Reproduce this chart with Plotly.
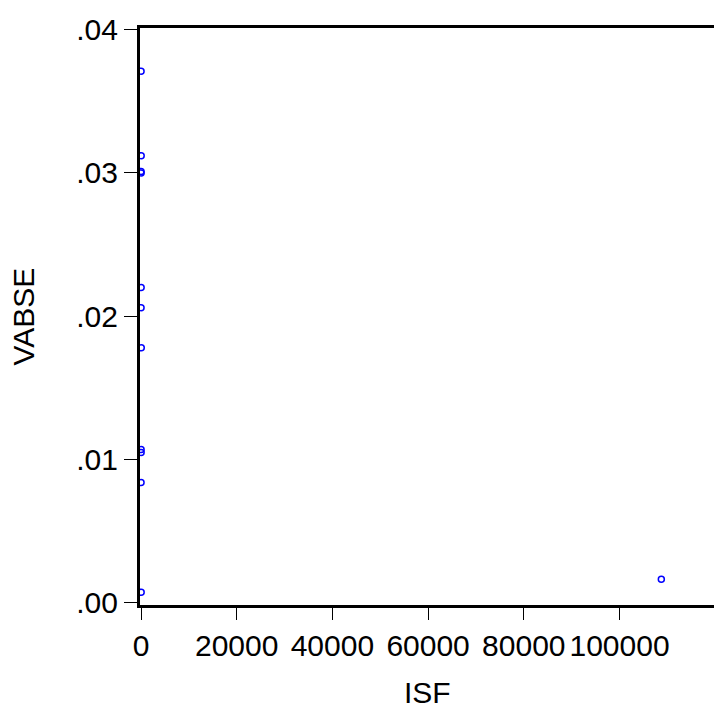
import plotly.graph_objects as go

isf = [15, 40, 8, 22, 30, 12, 55, 18, 26, 10, 35, 108740]
vabse = [0.0371, 0.0312, 0.0301, 0.0300, 0.0220, 0.0206, 0.0178, 0.0107, 0.0105, 0.0084, 0.00075, 0.00165]

x_ticks = [0, 20000, 40000, 60000, 80000, 100000]
x_labels = ["0", "20000", "40000", "60000", "80000", "100000"]
y_ticks = [0.0, 0.01, 0.02, 0.03, 0.04]
y_labels = [".00", ".01", ".02", ".03", ".04"]

font = dict(family="Liberation Sans, Arial, sans-serif", size=30, color="black")

fig = go.Figure(go.Scatter(
    x=isf, y=vabse, mode="markers",
    marker=dict(symbol="circle-open", size=6, color="#0000FF", line=dict(width=1.5, color="#0000FF")),
))

fig.update_layout(
    width=714, height=710,
    margin=dict(l=140, r=0, t=28, b=105),
    paper_bgcolor="white", plot_bgcolor="white",
    showlegend=False,
    font=font,
    xaxis=dict(
        range=[-209, 119750], tickvals=x_ticks, ticktext=x_labels,
        showgrid=False, zeroline=False,
        showline=True, linecolor="black", linewidth=3, mirror=True,
        ticks="outside", ticklen=12, tickwidth=1, tickcolor="black",
        tickfont=font,
    ),
    yaxis=dict(
        range=[-0.00014, 0.04011], tickvals=y_ticks, ticktext=y_labels,
        showgrid=False, zeroline=False,
        showline=True, linecolor="black", linewidth=3, mirror=False,
        ticks="outside", ticklen=13, tickwidth=1, tickcolor="black",
        tickfont=font,
    ),
    annotations=[
        dict(text="ISF", xref="paper", yref="paper", x=0.5, y=-0.1508,
             xanchor="center", yanchor="middle", showarrow=False, font=font),
        dict(text="VABSE", xref="paper", yref="paper", x=-0.2021, y=0.5,
             xanchor="center", yanchor="middle", textangle=-90, showarrow=False, font=font),
    ],
)

fig.write_html("out.html")
